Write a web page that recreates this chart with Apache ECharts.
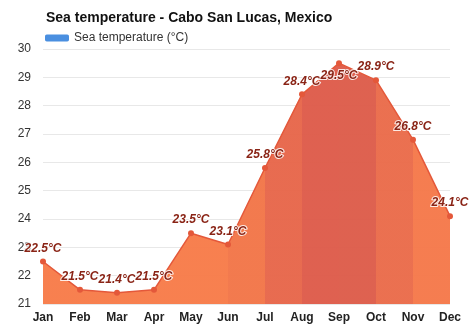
<!DOCTYPE html>
<html><head><meta charset="utf-8">
<script src="https://cdn.jsdelivr.net/npm/echarts@6/dist/echarts.min.js"></script>
<style>html,body{margin:0;padding:0;background:#fff}#c{width:474px;height:331px}</style>
</head><body><div id="c"></div>
<script>
const months = ['Jan','Feb','Mar','Apr','May','Jun','Jul','Aug','Sep','Oct','Nov','Dec'];
const seaTemp = [22.5,21.5,21.4,21.5,23.5,23.1,25.8,28.4,29.5,28.9,26.8,24.1];
const segmentColors = ['#f77c4a','#f77c4a','#f77c4a','#f77c4a','#f77c4a','#f27649','#e7674b','#de5c4b','#dd5d4b','#ea6c4b','#f5794b'];
const yTicks = {min:21, max:30, interval:1};
const titleText = 'Sea temperature - Cabo San Lucas, Mexico';
const seriesName = 'Sea temperature (°C)';

const chart = echarts.init(document.getElementById('c'), null, {renderer:'canvas'});
const font = '"Liberation Sans", Arial, sans-serif';
chart.setOption({
  animation:false,
  backgroundColor:'#fff',
  title:{text:titleText,left:41,top:6,textStyle:{fontFamily:font,fontSize:14,fontWeight:'bold',color:'#111'}},
  legend:{left:40,top:27,itemWidth:24,itemHeight:7,itemGap:6,
    textStyle:{fontFamily:font,fontSize:12,color:'#333'},
    data:[{name:seriesName,icon:'roundRect',itemStyle:{color:'#4a8fe0'}}]},
  grid:{left:43,right:24,top:49,bottom:27},
  visualMap:{type:'piecewise',show:false,seriesIndex:0,dimension:0,
    pieces:segmentColors.map((c,i)=>({gte:i,lt:i+1,color:c})).concat([{gte:11,lte:11,color:segmentColors[10]}])},
  xAxis:{type:'category',data:months,boundaryGap:false,
    axisLine:{show:false},axisTick:{show:false},splitLine:{show:false},
    axisLabel:{fontFamily:font,fontSize:12,fontWeight:'bold',color:'#222',margin:8}},
  yAxis:{type:'value',min:yTicks.min,max:yTicks.max,interval:yTicks.interval,
    axisLine:{show:false},axisTick:{show:false},
    splitLine:{lineStyle:{color:'#e8e8e8'}},
    axisLabel:{fontFamily:font,fontSize:12,color:'#333',margin:12}},
  series:[
    {type:'line',name:'area',data:seaTemp,symbol:'none',lineStyle:{width:0},
      areaStyle:{opacity:0.97},z:1,silent:true},
    {type:'line',name:seriesName,data:seaTemp.map((v,i)=> i===8?{value:v,label:{position:'bottom',distance:4}}:v),
      color:'#e4583a',symbol:'circle',symbolSize:6,
      lineStyle:{color:'#e4583a',width:1.5},z:3,
      label:{show:true,position:'top',distance:4,formatter:'{c}°C',
        fontFamily:font,fontSize:12,fontWeight:'bold',fontStyle:'italic',color:'#8a2416',
        textBorderColor:'rgba(255,255,255,0.85)',textBorderWidth:2}}
  ]
});
</script></body></html>
